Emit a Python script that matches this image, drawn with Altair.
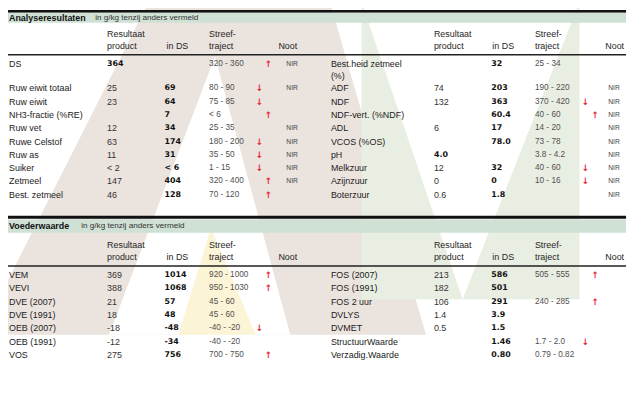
import altair as alt
import pandas as pd

# ---------------- data ----------------
# Section 1: Analyseresultaten (left block)
s1l_names = ["DS", "", "Ruw eiwit totaal", "Ruw eiwit", "NH3-fractie (%RE)", "Ruw vet",
             "Ruwe Celstof", "Ruw as", "Suiker", "Zetmeel", "Best. zetmeel"]
s1l_prod = ["364", "", "25", "23", "", "12", "63", "11", "< 2", "147", "46"]
s1l_ds = ["", "", "69", "64", "7", "34", "174", "31", "< 6", "404", "128"]
s1l_streef = ["320 - 360", "", "80 - 90", "75 - 85", "< 6", "25 - 35", "180 - 200",
              "35 - 50", "1 - 15", "320 - 400", "70 - 120"]
s1l_trend = ["up", "", "down", "down", "up", "", "down", "down", "down", "up", "up"]
s1l_noot = ["NIR", "", "NIR", "", "", "NIR", "NIR", "NIR", "NIR", "NIR", ""]
s1l_prod_bold = ["364"]

# Section 1 (right block)
s1r_names = ["Best.heid zetmeel", "(%)", "ADF", "NDF", "NDF-vert. (%NDF)", "ADL",
             "VCOS  (%OS)", "pH", "Melkzuur", "Azijnzuur", "Boterzuur"]
s1r_prod = ["", "", "74", "132", "", "6", "", "4.0", "12", "0", "0.6"]
s1r_ds = ["32", "", "203", "363", "60.4", "17", "78.0", "", "32", "0", "1.8"]
s1r_streef = ["25 - 34", "", "190 - 220", "370 - 420", "40 - 60", "14 - 20", "73 - 78",
              "3.8 - 4.2", "40 - 60", "10 - 16", ""]
s1r_trend = ["", "", "", "down", "up", "", "", "", "down", "down", ""]
s1r_noot = ["", "", "NIR", "NIR", "NIR", "NIR", "NIR", "NIR", "NIR", "NIR", "NIR"]
s1r_prod_bold = ["4.0"]

# Section 2: Voederwaarde (left block)
s2l_names = ["VEM", "VEVI", "DVE (2007)", "DVE (1991)", "OEB (2007)", "OEB (1991)", "VOS"]
s2l_prod = ["369", "388", "21", "18", "-18", "-12", "275"]
s2l_ds = ["1014", "1068", "57", "48", "-48", "-34", "756"]
s2l_streef = ["920 - 1000", "950 - 1030", "45 - 60", "45 - 60", "-40 - -20", "-40 - -20", "700 - 750"]
s2l_trend = ["up", "up", "", "", "down", "", "up"]

# Section 2 (right block)
s2r_names = ["FOS (2007)", "FOS (1991)", "FOS 2 uur", "DVLYS", "DVMET",
             "StructuurWaarde", "Verzadig.Waarde"]
s2r_prod = ["213", "182", "106", "1.4", "0.5", "", ""]
s2r_ds = ["586", "501", "291", "3.9", "1.5", "1.46", "0.80"]
s2r_streef = ["505 - 555", "", "240 - 285", "", "", "1.7 - 2.0", "0.79 - 0.82"]
s2r_trend = ["up", "", "up", "", "", "down", ""]

section_titles = ["Analyseresultaten", "Voederwaarde"]
subtitle = "in g/kg tenzij anders vermeld"

# ---------------- layout ----------------
ROWS_S1 = [63.0, 74.8] + [87.3 + 13.4 * i for i in range(9)]
ROWS_S2 = [275.5 + 13.5 * i for i in range(7)]
COL_L = dict(name=9, prod=108, ds=166, streef=211, up=271, down=262, noot=289,
             h_ds=168, h_noot=281)
COL_R = dict(name=334, prod=438, ds=496, streef=540, up=601, down=591, noot=614,
             h_ds=497, h_noot=611)

cells = []


def add(x, y, text, kind):
    if text:
        cells.append(dict(x=x, y=y, text=text, kind=kind))


def block(rows_y, col, names, prod, ds, streef, trend, noot=None, prod_bold=()):
    for i, y in enumerate(rows_y):
        add(col["name"], y, names[i], "name")
        add(col["prod"], y, prod[i], "bold" if prod[i] in prod_bold else "prod")
        add(col["ds"], y, ds[i], "bold")
        add(col["streef"], y, streef[i], "streef")
        if trend[i] == "up":
            add(col["up"], y, "↑", "arrow")
        elif trend[i] == "down":
            add(col["down"], y, "↓", "arrow")
        if noot is not None:
            add(col["noot"], y, noot[i], "nir")


def headers(y1, y2, col):
    add(col["prod"], y1, "Resultaat", "header")
    add(col["prod"], y2, "product", "header")
    add(col["h_ds"], y2 + 0.5, "in DS", "header")
    add(col["streef"], y1, "Streef-", "header")
    add(col["streef"], y2, "traject", "header")
    add(col["h_noot"], y2 + 0.5, "Noot", "header")


block(ROWS_S1, COL_L, s1l_names, s1l_prod, s1l_ds, s1l_streef, s1l_trend, s1l_noot, s1l_prod_bold)
block(ROWS_S1, COL_R, s1r_names, s1r_prod, s1r_ds, s1r_streef, s1r_trend, s1r_noot, s1r_prod_bold)
block(ROWS_S2, COL_L, s2l_names, s2l_prod, s2l_ds, s2l_streef, s2l_trend)
block(ROWS_S2, COL_R, s2r_names, s2r_prod, s2r_ds, s2r_streef, s2r_trend)
headers(32.5, 44.3, COL_L)
headers(32.5, 44.3, COL_R)
headers(245.5, 257.3, COL_L)
headers(245.5, 257.3, COL_R)
add(9, 15.8, section_titles[0], "title")
add(96, 15.8, subtitle, "subtitle")
add(9, 226.5, section_titles[1], "title")
add(82, 226.5, subtitle, "subtitle")

cells = pd.DataFrame(cells)

# decorative frame: bands and rules (x1, x2, y1, y2, colour)
decor = pd.DataFrame([
    dict(x1=0, x2=632, y1=8, y2=10.8, c="#111111"),
    dict(x1=0, x2=632, y1=10.8, y2=21, c="#cfe0d4"),
    dict(x1=0, x2=632, y1=52.6, y2=54.0, c="#222222"),
    dict(x1=0, x2=632, y1=215.8, y2=218.8, c="#111111"),
    dict(x1=0, x2=632, y1=219.5, y2=233, c="#cfe0d4"),
    dict(x1=0, x2=632, y1=265.8, y2=267.2, c="#222222"),
])

# faint watermark shapes (x, top, bottom)
wm_a_x = [-20, 150, 333, 430]
wm_a_top = [336, 0, 0, 336]
wm_a_hole_x = [110, 217, 293]
wm_a_hole_top = [336, 55, 336]
wm_v_x = [365, 467, 585]
wm_v_top = [0, 300, 0]
wm_y_x = [180, 213, 258]
wm_y_top = [336, 228, 336]

X = alt.Scale(domain=[8, 638], range=[0, 630])
Y = alt.Scale(domain=[8, 409], range=[0, 401])


def area(xs, tops, bots, color):
    df = pd.DataFrame(dict(x=xs, t=tops, b=bots))
    return alt.Chart(df).mark_area(color=color, opacity=1, interpolate="linear").encode(
        x=alt.X("x:Q", scale=X, axis=None),
        y=alt.Y("t:Q", scale=Y, axis=None),
        y2="b:Q",
    )


layers = [
    area(wm_a_x, wm_a_top, [336] * 4, "#ebe3de"),
    area(wm_a_hole_x, wm_a_hole_top, [336] * 3, "#ffffff"),
    area(wm_v_x, wm_v_top, [300, 300, 300], "#e9eee2"),
    area(wm_y_x, wm_y_top, [336] * 3, "#fcf4d6"),
    alt.Chart(decor).mark_rect().encode(
        x=alt.X("x1:Q", scale=X, axis=None), x2="x2:Q",
        y=alt.Y("y1:Q", scale=Y, axis=None), y2="y2:Q",
        color=alt.Color("c:N", scale=None),
    ),
]

styles = {
    "name": dict(font="Liberation Sans", fontSize=9, color="#1c1c1c"),
    "prod": dict(font="Liberation Sans", fontSize=9, color="#333333"),
    "bold": dict(font="DejaVu Sans", fontSize=8, fontWeight="bold", color="#111111"),
    "streef": dict(font="Liberation Sans", fontSize=8.3, color="#505050"),
    "nir": dict(font="Liberation Sans", fontSize=6.8, color="#444444"),
    "arrow": dict(font="DejaVu Sans", fontSize=9, color="#e3283a", align="center", fontWeight="bold"),
    "header": dict(font="Liberation Sans", fontSize=9, color="#262626"),
    "title": dict(font="Liberation Sans", fontSize=9, fontWeight="bold", color="#111111"),
    "subtitle": dict(font="Liberation Sans", fontSize=8.2, color="#333333"),
}

for kind, st in styles.items():
    sub = cells[cells["kind"] == kind]
    opts = dict(align="left", baseline="middle")
    opts.update(st)
    layers.append(
        alt.Chart(sub).mark_text(**opts).encode(
            x=alt.X("x:Q", scale=X, axis=None),
            y=alt.Y("y:Q", scale=Y, axis=None),
            text="text:N",
        )
    )

chart = alt.layer(*layers).properties(
    width=630, height=401, padding=0, autosize="none", background="white"
).configure_view(stroke=None)

chart.save("out.html", embed_options={"renderer": "svg", "actions": False})
